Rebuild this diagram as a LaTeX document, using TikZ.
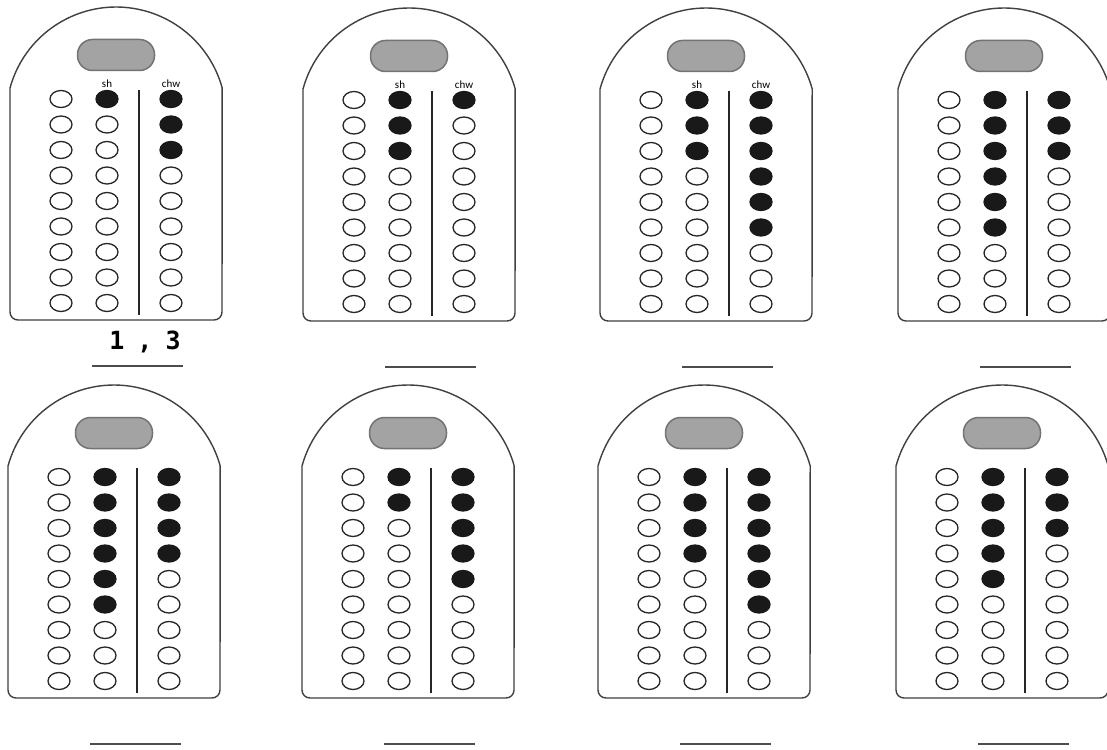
\documentclass[tikz,border=0pt]{standalone}
\usepackage{fontspec}
\newfontfamily\labelfont{Carlito}
\newfontfamily\answerfont{DejaVu Sans Mono}

\tikzset{
  cardline/.style={draw=black!75, line width=1.4pt},
  pill/.style={draw=black!55, fill=black!36, line width=1.5pt, rounded corners=15pt,
    minimum width=77pt, minimum height=31pt, inner sep=0pt},
  bead/.style={draw=black!85, line width=1.3pt},
  beadon/.style={draw=black!90, fill=black!90, line width=1.3pt},
  rodline/.style={draw=black!85, line width=1.4pt},
  answerline/.style={draw=black!70, line width=1.8pt},
  collabel/.style={font=\labelfont\fontsize{11}{11}\selectfont, inner sep=0pt},
}

% #1 name, #2 left, #3 top, #4 beads down in sh, #5 beads down in chw, #6 labels (1/0)
\newcommand{\abacuscard}[6]{%
  \draw[cardline] (#2,#3+81) arc[start angle=164.7, end angle=15.3, radius=110pt]
    [rounded corners=8pt] -- (#2+212,#3+313) -- (#2,#3+313) [sharp corners] -- cycle;
  \node[pill] (#1pill) at (#2+106,#3+48) {};
  \foreach \r in {1,...,9} {
    \draw[bead] (#2+51,#3+66.5+25.5*\r) ellipse [x radius=11pt, y radius=8.5pt];
    \ifnum\r>#4 \def\st{bead}\else\def\st{beadon}\fi
    \draw[\st] (#2+97,#3+66.5+25.5*\r) ellipse [x radius=11pt, y radius=8.5pt];
    \ifnum\r>#5 \def\st{bead}\else\def\st{beadon}\fi
    \draw[\st] (#2+161,#3+66.5+25.5*\r) ellipse [x radius=11pt, y radius=8.5pt];
  }
  \draw[rodline] (#2+129,#3+83) -- (#2+129,#3+308);
  \ifnum#6=1
    \node[collabel] (#1sh) at (#2+97,#3+77) {sh};
    \node[collabel] (#1chw) at (#2+161,#3+77) {chw};
  \fi
  \draw[answerline] (#2+82,#3+359) -- (#2+173,#3+359);
}

\begin{document}
\begin{tikzpicture}[x=1pt, y=-1pt]
  \useasboundingbox[fill=white] (0,0) rectangle (1107,749);
  % top row
  \abacuscard{c1}{10}{7}{1}{3}{1}
  \abacuscard{c2}{303}{8}{3}{1}{1}
  \abacuscard{c3}{600}{8}{3}{6}{1}
  \abacuscard{c4}{898}{8}{6}{3}{0}
  % bottom row
  \abacuscard{c5}{8}{385}{6}{4}{0}
  \abacuscard{c6}{302}{385}{2}{5}{0}
  \abacuscard{c7}{598}{385}{4}{6}{0}
  \abacuscard{c8}{896}{385}{5}{3}{0}
  % written answer
  \node[font=\answerfont\bfseries\fontsize{25}{25}\selectfont, inner sep=0pt] (ans1) at (145,342) {1\kern-2pt{} ,\kern-2pt{} 3};
\end{tikzpicture}
\end{document}
